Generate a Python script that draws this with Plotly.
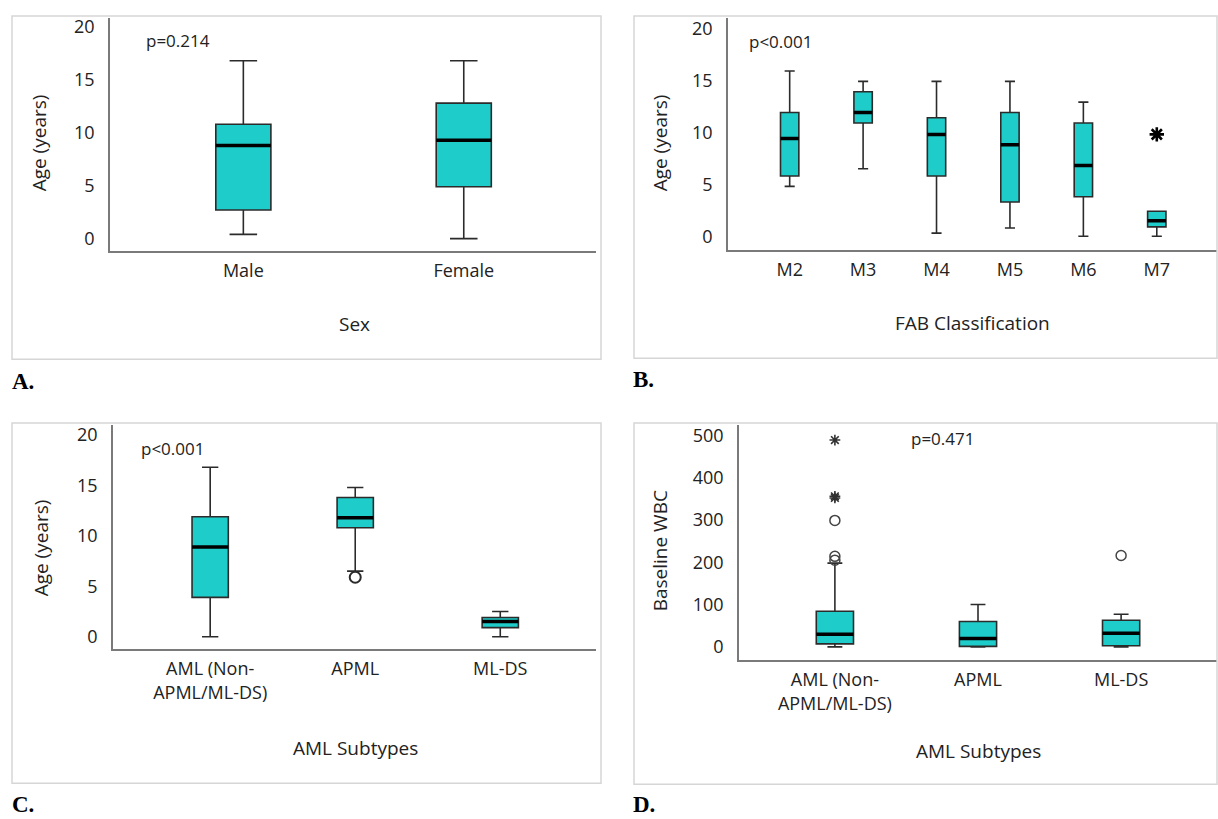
import plotly.graph_objects as go

W, H = 1218, 819

# ---------------- data ----------------
sex_cats = ["Male", "Female"]
sex_low = [0.4, 0.0]
sex_q1 = [2.7, 4.9]
sex_med = [8.8, 9.3]
sex_q3 = [10.8, 12.8]
sex_high = [16.8, 16.8]

fab_cats = ["M2", "M3", "M4", "M5", "M6", "M7"]
fab_low = [4.8, 6.5, 0.3, 0.8, 0.0, 0.0]
fab_q1 = [5.8, 10.9, 5.8, 3.3, 3.8, 0.9]
fab_med = [9.4, 11.9, 9.8, 8.8, 6.8, 1.5]
fab_q3 = [11.9, 13.9, 11.4, 11.9, 10.9, 2.4]
fab_high = [15.9, 14.9, 14.9, 14.9, 12.9, 2.4]
fab_extreme_cat = ["M7"]
fab_extreme_val = [9.8]

sub_cats = ["AML (Non-<br>APML/ML-DS)", "APML", "ML-DS"]
age_low = [0.0, 6.5, 0.0]
age_q1 = [3.9, 10.8, 0.9]
age_med = [8.9, 11.8, 1.5]
age_q3 = [11.9, 13.8, 1.9]
age_high = [16.8, 14.8, 2.5]
age_out_cat = ["APML"]
age_out_val = [5.9]

wbc_low = [0.0, 0.0, 0.0]
wbc_q1 = [7.0, 1.0, 2.5]
wbc_med = [30.0, 20.0, 32.0]
wbc_q3 = [84.0, 60.0, 63.0]
wbc_high = [198.0, 100.0, 77.0]
wbc_out_cat = ["AML (Non-<br>APML/ML-DS)", "AML (Non-<br>APML/ML-DS)", "AML (Non-<br>APML/ML-DS)", "ML-DS"]
wbc_out_val = [205.0, 214.0, 299.0, 216.0]
wbc_ext_cat = ["AML (Non-<br>APML/ML-DS)", "AML (Non-<br>APML/ML-DS)", "AML (Non-<br>APML/ML-DS)"]
wbc_ext_val = [352.0, 356.0, 489.0]

# ---------------- style ----------------
FILL = "#1ECCCA"
EDGE = "#2b2b2b"
AXC = "#7a7a7a"
FONT = "Open Sans"
TXT = "#222222"
TICK = 18

def px(x):
    return x / W

def py(y):
    return 1 - y / H

fig = go.Figure()

panels = [
    dict(cats=sex_cats, low=sex_low, q1=sex_q1, med=sex_med, q3=sex_q3, high=sex_high,
         bw=0.25, cap=0.5, xd=(110, 596), yd=(14, 248), xr=[-0.605, 1.6], yr=[-1.15, 20.85],
         yt=[0, 5, 10, 15, 20], xtitle="Sex", ytitle="Age (years)", p="p=0.214"),
    dict(cats=fab_cats, low=fab_low, q1=fab_q1, med=fab_med, q3=fab_q3, high=fab_high,
         bw=0.25, cap=0.55, xd=(728, 1217), yd=(14, 247), xr=[-0.84, 5.82], yr=[-1.3, 21.0],
         yt=[0, 5, 10, 15, 20], xtitle="FAB Classification", ytitle="Age (years)", p="p<0.001"),
    dict(cats=sub_cats, low=age_low, q1=age_q1, med=age_med, q3=age_q3, high=age_high,
         bw=0.25, cap=0.45, xd=(113, 596), yd=(423, 648), xr=[-0.67, 2.66], yr=[-1.2, 21.0],
         yt=[0, 5, 10, 15, 20], xtitle="AML Subtypes", ytitle="Age (years)", p="p<0.001"),
    dict(cats=sub_cats, low=wbc_low, q1=wbc_q1, med=wbc_med, q3=wbc_q3, high=wbc_high,
         bw=0.26, cap=0.4, xd=(739, 1217), yd=(423, 659), xr=[-0.67, 2.67], yr=[-30.6, 524.7],
         yt=[0, 100, 200, 300, 400, 500], xtitle="AML Subtypes", ytitle="Baseline WBC", p="p=0.471"),
]

layout_axes = {}
for i, P in enumerate(panels):
    n = i + 1
    xa = "x" if n == 1 else f"x{n}"
    ya = "y" if n == 1 else f"y{n}"
    pos = list(range(len(P["cats"])))
    fig.add_trace(go.Box(
        x=pos, q1=P["q1"], median=P["med"], q3=P["q3"],
        lowerfence=P["low"], upperfence=P["high"],
        width=P["bw"], whiskerwidth=P["cap"], boxpoints=False,
        fillcolor=FILL, line=dict(color=EDGE, width=1.6),
        xaxis=xa, yaxis=ya, showlegend=False, hoverinfo="skip"))
    for j, m in enumerate(P["med"]):
        fig.add_trace(go.Scatter(
            x=[pos[j] - P["bw"] / 2, pos[j] + P["bw"] / 2], y=[m, m],
            mode="lines", line=dict(color="black", width=3.5),
            xaxis=xa, yaxis=ya, showlegend=False, hoverinfo="skip"))
    xk = f"xaxis{'' if n == 1 else n}"
    yk = f"yaxis{'' if n == 1 else n}"
    layout_axes[xk] = dict(
        domain=[px(P["xd"][0]), px(P["xd"][1])], anchor=ya, range=P["xr"],
        tickvals=pos, ticktext=P["cats"], showline=True, linecolor=AXC, linewidth=1.5,
        showgrid=False, zeroline=False, ticks="", ticklabelstandoff=3,
        tickfont=dict(family=FONT, size=TICK, color=TXT), fixedrange=True)
    layout_axes[yk] = dict(
        domain=[py(P["yd"][1]), py(P["yd"][0])], anchor=xa, range=P["yr"],
        tickvals=P["yt"], showline=True, linecolor=AXC, linewidth=1.5,
        showgrid=False, zeroline=False, ticks="", ticklabelstandoff=10,
        tickfont=dict(family=FONT, size=TICK, color=TXT), fixedrange=True)

cat_index_fab = {c: k for k, c in enumerate(fab_cats)}
cat_index_sub = {c: k for k, c in enumerate(sub_cats)}

fig.add_trace(go.Scatter(
    x=[cat_index_fab[c] for c in fab_extreme_cat], y=fab_extreme_val, mode="markers",
    marker=dict(symbol="asterisk-open", size=12, color="black", line=dict(color="black", width=2.6)),
    xaxis="x2", yaxis="y2", showlegend=False, hoverinfo="skip"))
fig.add_trace(go.Scatter(
    x=[cat_index_sub[c] for c in age_out_cat], y=age_out_val, mode="markers",
    marker=dict(symbol="circle-open", size=11, color=EDGE, line=dict(color=EDGE, width=2)),
    xaxis="x3", yaxis="y3", showlegend=False, hoverinfo="skip"))
fig.add_trace(go.Scatter(
    x=[cat_index_sub[c] for c in wbc_out_cat], y=wbc_out_val, mode="markers",
    marker=dict(symbol="circle-open", size=10, color="#444444", line=dict(color="#444444", width=1.5)),
    xaxis="x4", yaxis="y4", showlegend=False, hoverinfo="skip"))
fig.add_trace(go.Scatter(
    x=[cat_index_sub[c] for c in wbc_ext_cat], y=wbc_ext_val, mode="markers",
    marker=dict(symbol="asterisk-open", size=9, color="#333333", line=dict(color="#333333", width=1.6)),
    xaxis="x4", yaxis="y4", showlegend=False, hoverinfo="skip"))

annotations = []
shapes = []
borders = [(12, 12, 601, 357), (634, 12, 1217, 356), (12, 421, 601, 783), (634, 421, 1217, 784)]
for (x0, y0, x1, y1) in borders:
    shapes.append(dict(type="rect", xref="paper", yref="paper",
                       x0=px(x0), x1=px(x1), y0=py(y1), y1=py(y0),
                       line=dict(color="#d6d6d6", width=1.5)))

pvals = [(178, 37), (780, 38), (172, 447), (942, 437)]
ytitles = [(39, 140), (660, 140), (41, 547), (660, 550)]
xtitles = [(354, 322), (972, 321), (356, 748), (978, 751)]
for P, (x, y) in zip(panels, pvals):
    annotations.append(dict(text=P["p"], x=px(x), y=py(y), xref="paper", yref="paper",
                            xanchor="center", yanchor="middle",
                            showarrow=False, font=dict(family=FONT, size=17, color=TXT)))
for P, (x, y) in zip(panels, ytitles):
    annotations.append(dict(text=P["ytitle"], x=px(x), y=py(y), xref="paper", yref="paper",
                            xanchor="center", yanchor="middle",
                            showarrow=False, textangle=-90,
                            font=dict(family=FONT, size=19, color=TXT)))
for P, (x, y) in zip(panels, xtitles):
    annotations.append(dict(text=P["xtitle"], x=px(x), y=py(y), xref="paper", yref="paper",
                            xanchor="center", yanchor="middle",
                            showarrow=False, font=dict(family=FONT, size=19, color=TXT)))

letters = [("A.", 10, 379), ("B.", 631, 377), ("C.", 10, 804), ("D.", 631, 804)]
for t, x, y in letters:
    annotations.append(dict(text=f"<b>{t}</b>", x=px(x), y=py(y), xref="paper", yref="paper",
                            xanchor="left", yanchor="middle", showarrow=False,
                            font=dict(family="Liberation Serif", size=23, color="black")))

fig.update_layout(
    width=W, height=H, margin=dict(l=0, r=0, t=0, b=0),
    paper_bgcolor="white", plot_bgcolor="white",
    annotations=annotations, shapes=shapes, **layout_axes)

fig.write_html("out.html")
